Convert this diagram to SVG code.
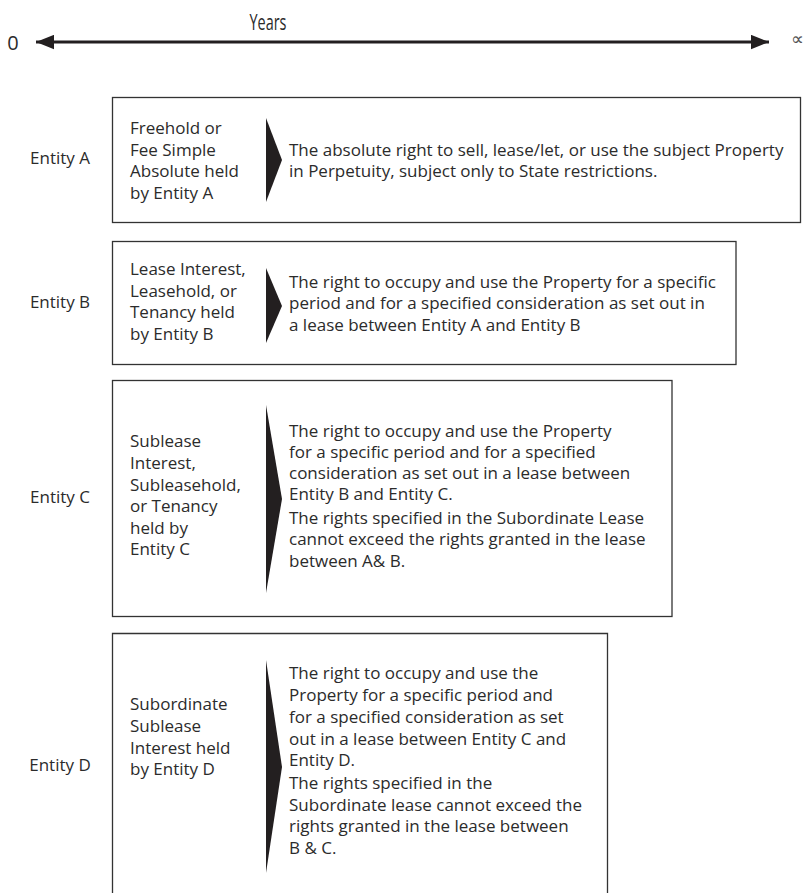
<svg xmlns="http://www.w3.org/2000/svg" width="803" height="893" viewBox="0 0 803 893">
<style>
text{font-family:"Open Sans","Noto Sans",sans-serif;font-size:17px;fill:#2b2b2b}
.ent{text-anchor:middle}
.box{fill:#fff;stroke:#333;stroke-width:1.3}
.chev{fill:#231f20}
.axis{stroke:#231f20;stroke-width:3;fill:none}
</style>
<defs>
<marker id="ah" viewBox="0 0 10 8" refX="10" refY="4" markerWidth="6" markerHeight="5" markerUnits="strokeWidth" orient="auto-start-reverse">
<path d="M0,0 L10,4 L0,8 Z" fill="#231f20"/>
</marker>
</defs>
<rect width="803" height="893" fill="#fff"/>
<g id="axis">
<text x="268" y="30" class="ent" style="font-size:21px" textLength="37" lengthAdjust="spacingAndGlyphs">Years</text>
<text x="13" y="50" class="ent" style="font-size:20px">0</text>
<text x="791" y="45" style="font-size:18px;fill:#555">∝</text>
<g id="connectors">
<line x1="36" y1="42" x2="769" y2="42" class="axis" marker-start="url(#ah)" marker-end="url(#ah)"/>
</g>
</g>
<g id="entityA">
<text x="60" y="164" class="ent">Entity A</text>
<rect x="112.5" y="97.5" width="688" height="125" class="box"/>
<text x="130" y="134">Freehold or</text>
<text x="130" y="156">Fee Simple</text>
<text x="130" y="177">Absolute held</text>
<text x="130" y="199">by Entity A</text>
<path d="M266,118 L282,160 L266,202 Z" class="chev"/>
<text x="289" y="156">The absolute right to sell, lease/let, or use the subject Property</text>
<text x="289" y="177">in Perpetuity, subject only to State restrictions.</text>
</g>
<g id="entityB">
<text x="60" y="308" class="ent">Entity B</text>
<rect x="112.5" y="241.5" width="623.5" height="123" class="box"/>
<text x="130" y="275">Lease Interest,</text>
<text x="130" y="297">Leasehold, or</text>
<text x="130" y="318">Tenancy held</text>
<text x="130" y="340">by Entity B</text>
<path d="M266,268 L282,306 L266,343 Z" class="chev"/>
<text x="289" y="288">The right to occupy and use the Property for a specific</text>
<text x="289" y="309">period and for a specified consideration as set out in</text>
<text x="289" y="331">a lease between Entity A and Entity B</text>
</g>
<g id="entityC">
<text x="60" y="503" class="ent">Entity C</text>
<rect x="112.5" y="380.5" width="559.5" height="236" class="box"/>
<text x="130" y="447">Sublease</text>
<text x="130" y="469">Interest,</text>
<text x="130" y="491">Subleasehold,</text>
<text x="130" y="512">or Tenancy</text>
<text x="130" y="534">held by</text>
<text x="130" y="555">Entity C</text>
<path d="M266,405 L282,499 L266,593 Z" class="chev"/>
<text x="289" y="437">The right to occupy and use the Property</text>
<text x="289" y="458">for a specific period and for a specified</text>
<text x="289" y="479">consideration as set out in a lease between</text>
<text x="289" y="500">Entity B and Entity C.</text>
<text x="289" y="524">The rights specified in the Subordinate Lease</text>
<text x="289" y="545">cannot exceed the rights granted in the lease</text>
<text x="289" y="567">between A&amp; B.</text>
</g>
<g id="entityD">
<text x="60" y="771" class="ent">Entity D</text>
<path d="M112.5,900 V633.5 H607.5 V900" class="box"/>
<text x="130" y="710">Subordinate</text>
<text x="130" y="732">Sublease</text>
<text x="130" y="754">Interest held</text>
<text x="130" y="775">by Entity D</text>
<path d="M266,660 L282,767 L266,873 Z" class="chev"/>
<text x="289" y="679">The right to occupy and use the</text>
<text x="289" y="701">Property for a specific period and</text>
<text x="289" y="723">for a specified consideration as set</text>
<text x="289" y="745">out in a lease between Entity C and</text>
<text x="289" y="766">Entity D.</text>
<text x="289" y="789">The rights specified in the</text>
<text x="289" y="811">Subordinate lease cannot exceed the</text>
<text x="289" y="832">rights granted in the lease between</text>
<text x="289" y="854">B &amp; C.</text>
</g>
</svg>
